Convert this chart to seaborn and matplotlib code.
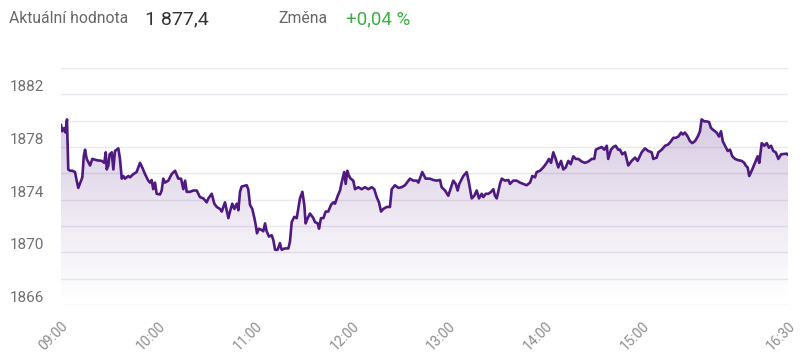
import matplotlib

matplotlib.use("Agg")

import matplotlib.pyplot as plt
import numpy as np
import pandas as pd
import seaborn as sns
from matplotlib.colors import LinearSegmentedColormap

# intraday index value, minutes after 09:00
minutes = [
    0, 0.8, 2.0, 2.9, 3.7, 4.5, 5.6, 7.0, 8.7, 9.7, 10.7, 12.4, 13.2, 14.1, 14.9, 15.9,
    18.0, 19.4, 22.1, 25.2, 26.8, 27.7, 28.3, 29.3, 30.1, 31.4, 32.4, 33.4, 35.5, 36.5,
    37.6, 38.6, 39.6, 41.7, 42.7, 44.8, 46.8, 48.9, 50.3, 52.0, 54.0, 55.1, 56.1, 57.1,
    58.2, 59.2, 61.3, 62.3, 63.3, 64.4, 66.4, 68.5, 70.6, 72.6, 74.3, 75.7, 76.8, 77.8,
    79.8, 81.9, 84.0, 86.0, 88.1, 90.2, 91.2, 93.3, 94.9, 96.4, 98.4, 99.5, 101.5, 103.6,
    104.6, 106.0, 107.3, 108.8, 109.8, 110.8, 111.8, 114.9, 115.9, 117.0, 118.4, 119.7,
    120.5, 121.3, 122.5, 124.2, 125.2, 126.3, 127.3, 128.7, 130.4, 131.4, 132.5, 134.1,
    135.5, 136.6, 138.6, 140.7, 141.7, 142.8, 144.4, 145.9, 147.9, 149.4, 150.6, 151.4,
    152.7, 154.1, 156.2, 157.2, 158.9, 159.7, 160.9, 162.4, 163.8, 165.4, 167.1, 168.5,
    169.6, 171.3, 172.7, 173.7, 175.3, 176.2, 177.2, 178.3, 179.3, 180.9, 182.0, 184.0,
    186.1, 188.2, 190.2, 192.3, 193.9, 195.4, 196.8, 198.1, 199.5, 201.6, 203.6, 204.7,
    206.7, 208.8, 210.9, 212.9, 216.0, 218.1, 220.2, 221.2, 223.6, 225.7, 228.4, 230.4,
    232.5, 234.6, 235.6, 237.7, 239.7, 240.8, 242.8, 244.3, 245.5, 246.5, 249.0, 251.1,
    252.5, 254.2, 255.8, 257.3, 258.7, 260.4, 261.4, 262.9, 264.5, 266.2, 267.6, 268.6,
    269.7, 271.7, 272.8, 274.8, 276.9, 277.9, 279.9, 282.0, 284.1, 286.1, 288.2, 290.3,
    291.7, 293.4, 294.4, 296.5, 298.5, 300.6, 302.0, 303.3, 304.7, 306.2, 307.8, 309.5,
    310.9, 312.4, 314.0, 315.5, 317.1, 318.6, 320.2, 322.3, 324.3, 326.4, 328.5, 330.1,
    331.0, 332.6, 334.7, 336.3, 337.8, 338.7, 340.4, 341.8, 343.3, 344.9, 346.0, 347.4,
    349.1, 351.1, 353.2, 355.3, 356.9, 359.4, 361.4, 363.5, 365.6, 366.6, 368.7, 369.7,
    371.8, 373.9, 375.9, 377.6, 379.0, 380.5, 382.1, 383.8, 384.8, 386.2, 387.9, 389.3,
    390.7, 392.4, 394.1, 395.5, 396.5, 398.2, 399.6, 401.1, 402.3, 403.7, 405.8, 407.3,
    408.5, 409.6, 411.0, 412.7, 414.1, 415.5, 417.2, 419.2, 421.3, 422.9, 423.8, 425.0,
    426.0, 427.5, 429.5, 431.2, 432.2, 433.7, 435.3, 436.8, 438.2, 439.5, 440.9, 442.4,
    444.0, 445.7, 449.2, 450,
]
values = [
    1879.7, 1879.2, 1879.45, 1879.1, 1880.1, 1876.3, 1876.2, 1876.2, 1876.1, 1875.45,
    1874.9, 1875.45, 1875.7, 1877.3, 1877.8, 1877.1, 1876.6, 1877.1, 1877.0, 1876.95,
    1876.8, 1877.6, 1876.3, 1876.6, 1877.45, 1877.6, 1876.3, 1877.7, 1877.9, 1877.1,
    1875.6, 1875.8, 1875.6, 1875.8, 1875.7, 1875.95, 1876.1, 1876.8, 1876.45, 1875.95,
    1875.45, 1875.3, 1875.5, 1874.8, 1875.3, 1874.45, 1874.4, 1874.7, 1875.6, 1875.3,
    1875.45, 1875.95, 1876.2, 1875.6, 1875.6, 1874.8, 1875.45, 1874.6, 1874.6, 1874.7,
    1874.7, 1874.2, 1874.1, 1873.8, 1874.1, 1874.45, 1873.7, 1873.45, 1873.3, 1873.1,
    1873.8, 1872.6, 1873.1, 1873.7, 1873.3, 1873.7, 1873.2, 1874.6, 1875.0, 1875.1,
    1874.8, 1873.6, 1873.3, 1872.6, 1872.1, 1871.45, 1871.8, 1871.7, 1871.6, 1872.2,
    1871.6, 1871.2, 1871.3, 1870.95, 1870.2, 1870.2, 1870.7, 1870.2, 1870.3, 1870.3,
    1870.8, 1872.3, 1872.7, 1872.6, 1874.1, 1874.6, 1873.6, 1872.2, 1872.6, 1872.95,
    1872.6, 1872.3, 1872.2, 1871.8, 1872.6, 1872.6, 1873.1, 1873.1, 1873.6, 1873.8,
    1873.7, 1874.3, 1874.7, 1875.3, 1876.1, 1875.2, 1876.2, 1875.8, 1875.6, 1875.45,
    1874.8, 1874.95, 1874.8, 1874.95, 1874.8, 1874.95, 1874.8, 1874.2, 1873.8, 1873.1,
    1873.3, 1873.45, 1873.45, 1874.8, 1875.1, 1874.9, 1874.95, 1875.1, 1875.6, 1875.45,
    1875.45, 1875.3, 1876.1, 1875.6, 1875.6, 1875.5, 1875.45, 1875.5, 1874.95, 1874.7,
    1874.3, 1874.7, 1875.45, 1875.2, 1874.7, 1875.2, 1875.8, 1876.1, 1875.3, 1874.1,
    1874.3, 1874.7, 1874.1, 1874.45, 1874.2, 1874.45, 1874.45, 1874.6, 1874.8, 1874.3,
    1874.1, 1875.2, 1875.6, 1875.45, 1875.5, 1875.2, 1875.45, 1875.45, 1875.3, 1875.2,
    1875.1, 1875.3, 1875.8, 1875.7, 1876.1, 1876.2, 1876.45, 1876.8, 1877.1, 1876.8,
    1877.6, 1877.1, 1876.45, 1876.95, 1876.3, 1876.45, 1876.95, 1876.7, 1877.3, 1877.1,
    1877.1, 1876.9, 1876.8, 1876.9, 1877.1, 1877.1, 1877.8, 1877.9, 1878.0, 1877.8,
    1878.1, 1877.1, 1877.8, 1878.0, 1878.1, 1877.8, 1877.8, 1877.45, 1877.6, 1876.6,
    1876.95, 1877.2, 1876.95, 1877.6, 1877.9, 1877.7, 1877.6, 1877.1, 1877.2, 1877.6,
    1877.8, 1878.1, 1878.2, 1878.45, 1878.7, 1878.7, 1878.8, 1879.1, 1878.95, 1879.1,
    1878.8, 1878.45, 1878.3, 1878.45, 1878.8, 1879.2, 1880.1, 1879.95, 1879.95, 1879.9,
    1879.45, 1879.3, 1879.1, 1878.8, 1879.2, 1878.45, 1878.1, 1877.7, 1877.8, 1877.3,
    1877.1, 1877.0, 1876.95, 1876.8, 1876.6, 1876.45, 1875.8, 1876.2, 1876.8, 1877.3,
    1876.8, 1878.3, 1878.1, 1878.3, 1877.95, 1878.1, 1877.7, 1877.6, 1877.1, 1877.45,
    1877.5, 1877.4,
]

tick_minutes = [0, 60, 120, 180, 240, 300, 360, 450]
tick_labels = ["09:00", "10:00", "11:00", "12:00", "13:00", "14:00", "15:00", "16:30"]
y_labels = [1866, 1870, 1874, 1878, 1882]
y_grid = [1868, 1872, 1876, 1880, 1884]

current_label = "Aktuální hodnota"
current_value = "1 877,4"
change_label = "Změna"
change_value = "+0,04 %"

LINE = "#4e1a80"
GREY = "#707070"
GRID = "#e9e7ef"

df = pd.DataFrame({"minute": minutes, "value": values})

sns.set_theme(style="white")
plt.rcParams["font.family"] = ["Roboto", "DejaVu Sans"]

fig = plt.figure(figsize=(8, 3.64), dpi=100)
ax = fig.add_axes([0.07625, 0.162, 0.9088, 0.651])

y_min, y_max = 1866, 1884
x_min, x_max = 0, 450

# gradient area under the line
cmap = LinearSegmentedColormap.from_list(
    "fade", [(0.36, 0.16, 0.53, 0.0), (0.36, 0.16, 0.53, 0.25)]
)
grad = np.linspace(0, 1, 256).reshape(-1, 1) ** 1.1
img = ax.imshow(
    grad, extent=[x_min, x_max, y_min, 1880.5], origin="lower",
    aspect="auto", cmap=cmap, zorder=1,
)
poly = ax.fill_between(df["minute"], df["value"], y_min, color="none", lw=0)
path = poly.get_paths()[0]
img.set_clip_path(path, transform=ax.transData)

sns.lineplot(data=df, x="minute", y="value", color=LINE, linewidth=1.9, ax=ax, zorder=3)

ax.set_xlim(x_min, x_max)
ax.set_ylim(y_min, y_max)

ax.set_yticks(y_labels)
ax.set_yticks(y_grid, minor=True)
ax.set_yticklabels([str(v) for v in y_labels], ha="left", va="bottom", color=GREY, fontsize=11)
ax.tick_params(axis="y", which="both", length=0, pad=37)
ax.grid(axis="y", which="both", color=GRID, linewidth=1, zorder=0)
ax.grid(axis="x", visible=False)

ax.set_xticks(tick_minutes)
ax.set_xticklabels(tick_labels, rotation=45, ha="right", va="top",
                   rotation_mode="anchor", color="#8c8c8c", fontsize=10)
ax.tick_params(axis="x", length=0, pad=10)

ax.set_xlabel("")
ax.set_ylabel("")
for side in ["top", "right", "left", "bottom"]:
    ax.spines[side].set_visible(False)

# header
fig.text(0.011, 0.948, current_label, color="#666666", fontsize=11.3, va="center")
fig.text(0.181, 0.948, current_value, color="#333333", fontsize=14, va="center")
fig.text(0.348, 0.948, change_label, color="#666666", fontsize=11.3, va="center")
fig.text(0.433, 0.948, change_value, color="#3cb043", fontsize=13.5, va="center")

fig.savefig("out.png", dpi=100, facecolor="white")
plt.close(fig)
